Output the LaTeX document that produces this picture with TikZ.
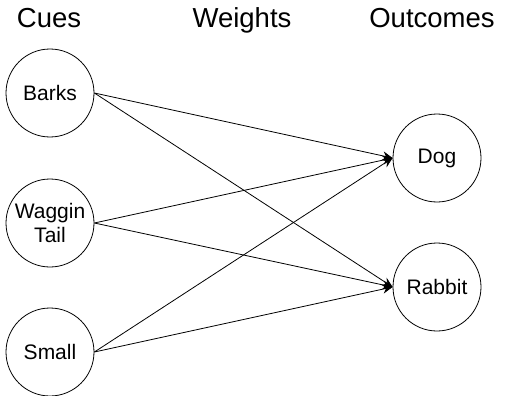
\documentclass[tikz,border=0pt]{standalone}
\usepackage{fontspec}
\setmainfont{Liberation Sans}
\usetikzlibrary{arrows.meta,positioning}
\tikzset{
    basic/.style  = {draw, circle, line width=0.8pt, minimum size=88pt, inner sep=0pt, align=center, font=\fontsize{21}{24}\selectfont},
    cue/.style    = {basic},
    outcome/.style = {basic},
    heading/.style = {anchor=base, inner sep=0pt, font=\fontsize{27.5}{32}\selectfont}
}
\begin{document}
\begin{tikzpicture}[x=1pt,y=1pt,
	weight/.style={-{Stealth[length=10pt,width=9pt]},draw,line width=0.8pt},>=latex]
		\useasboundingbox (0,0) rectangle (506,-396);
		% headings
		\node[heading] (hcues) at (49,-28) {Cues};
		\node[heading] (hweights) at (242,-28) {Weights};
		\node[heading] (houtcomes) at (432,-28) {Outcomes};
		% cues
		\node[cue] (barks) at (50,-93) {Barks};
		\node[cue] (wag) at (50,-223) {Waggin\\Tail};
		\node[cue] (small) at (50,-352) {Small};
		% outcomes
		\node[outcome] (dog) at (437,-158) {Dog};
		\node[outcome] (rabbit) at (437,-287) {Rabbit};
		% weights
		\foreach \c in {barks,wag,small}
			\foreach \o in {dog,rabbit}
				\draw[weight] (\c.east) -- (\o.west);
	\end{tikzpicture}
\end{document}
